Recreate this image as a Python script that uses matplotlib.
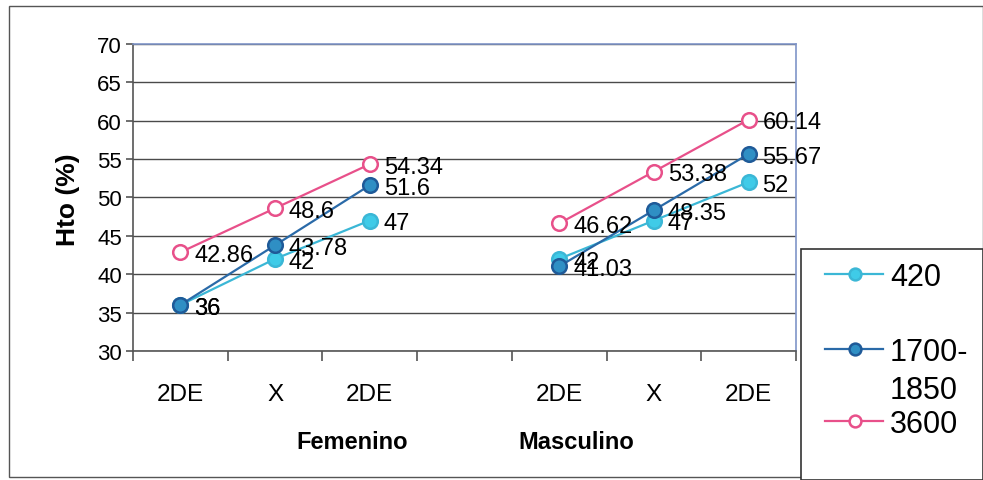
import matplotlib
matplotlib.use("Agg")
import matplotlib.pyplot as plt
from matplotlib.lines import Line2D
from matplotlib.patches import Rectangle
import matplotlib.transforms as mtransforms

plt.rcParams['font.family'] = ['Liberation Sans', 'DejaVu Sans']

# Categories (index 3 is an empty spacer between the two groups)
categories = ["2DE", "X", "2DE", "", "2DE", "X", "2DE"]
groups = ["Femenino", "Masculino"]
series_names = ["420", "1700-\n1850", "3600"]

# Hematocrit values (%) per series: Femenino (cats 0-2), Masculino (cats 4-6)
fem_420 = [36, 42, 47]
mas_420 = [42, 47, 52]
fem_1700 = [36, 43.78, 51.6]
mas_1700 = [41.03, 48.35, 55.67]
fem_3600 = [42.86, 48.6, 54.34]
mas_3600 = [46.62, 53.38, 60.14]

fem_x = [0, 1, 2]
mas_x = [4, 5, 6]

W, H = 983, 481
fig = plt.figure(figsize=(W / 100, H / 100), dpi=100)
fig.patch.set_facecolor("white")

def fx(px):
    return px / W

def fy(py):
    return 1 - py / H

# outer chart frame
fig.add_artist(Rectangle((fx(9), fy(478)), fx(983) - fx(9), fy(7) - fy(478),
                         transform=fig.transFigure, fill=False,
                         edgecolor="#555555", lw=1.0))

ax = fig.add_axes([fx(133), fy(352), fx(796) - fx(133), fy(45) - fy(352)])
ax.set_xlim(-0.5, 6.5)
ax.set_ylim(30, 70)
ax.set_yticks(range(30, 71, 5))
ax.grid(axis="y", color="#4a4a4a", lw=1.0)
ax.set_axisbelow(True)

for side in ["top", "right"]:
    ax.spines[side].set_color("#7f95c8")
    ax.spines[side].set_linewidth(1.2)
for side in ["left", "bottom"]:
    ax.spines[side].set_color("#555555")
    ax.spines[side].set_linewidth(1.2)

# category ticks at boundaries, labels at centers
ax.set_xticks([i - 0.5 for i in range(len(categories) + 1)])
ax.set_xticklabels([])
ax.tick_params(axis="x", direction="out", length=7, color="#555555", width=1.2)
ax.tick_params(axis="y", direction="out", length=5, color="#555555", width=1.2,
               labelsize=16, pad=3)

xt = mtransforms.blended_transform_factory(ax.transData, fig.transFigure)
for i, c in enumerate(categories):
    if c:
        ax.text(i, fy(395), c, transform=xt, ha="center", va="center", fontsize=17.5)
ax.text(1.81, fy(443), groups[0], transform=xt, ha="center", va="center",
        fontsize=17, fontweight="bold")
ax.text(4.18, fy(443), groups[1], transform=xt, ha="center", va="center",
        fontsize=17, fontweight="bold")

fig.text(fx(68), fy(200), "Hto (%)", rotation=90, ha="center", va="center",
         fontsize=19, fontweight="bold")

styles = [
    dict(color="#3bb7d6", mfc="#3fcbe8", mec="#3bb7d6"),
    dict(color="#2a6aa8", mfc="#2f8fc4", mec="#1f5a98"),
    dict(color="#e8508a", mfc="white", mec="#e8508a"),
]
data = [(fem_420, mas_420), (fem_1700, mas_1700), (fem_3600, mas_3600)]

for (fem, mas), st in zip(data, styles):
    for xs, ys in ((fem_x, fem), (mas_x, mas)):
        ax.plot(xs, ys, "-o", color=st["color"], lw=1.6, ms=10.5,
                mfc=st["mfc"], mec=st["mec"], mew=1.8, clip_on=False, zorder=3)
        for x, y in zip(xs, ys):
            ax.annotate(f"{y:g}", (x, y), xytext=(10, -2), textcoords="offset points",
                        ha="left", va="center", fontsize=17, zorder=4,
                        annotation_clip=False)

# legend box
fig.add_artist(Rectangle((fx(801), fy(481)), fx(983) - fx(801), fy(250) - fy(481),
                         transform=fig.transFigure, facecolor="white",
                         edgecolor="#333333", lw=1.2, zorder=10))
legend_rows = [275, 350, 422]
for name, st, py in zip(series_names, styles, legend_rows):
    fig.add_artist(Line2D([fx(825), fx(883)], [fy(py), fy(py)],
                          transform=fig.transFigure, color=st["color"], lw=1.6,
                          zorder=11))
    fig.add_artist(Line2D([fx(855)], [fy(py)], transform=fig.transFigure,
                          marker="o", ms=8.5, mfc=st["mfc"], mec=st["mec"],
                          mew=1.8, zorder=12))
    for k, part in enumerate(name.split("\n")):
        fig.text(fx(890), fy(py + 3 + 38 * k), part, ha="left", va="center",
                 fontsize=22, zorder=12)

fig.savefig("out.png", dpi=100, facecolor="white")
